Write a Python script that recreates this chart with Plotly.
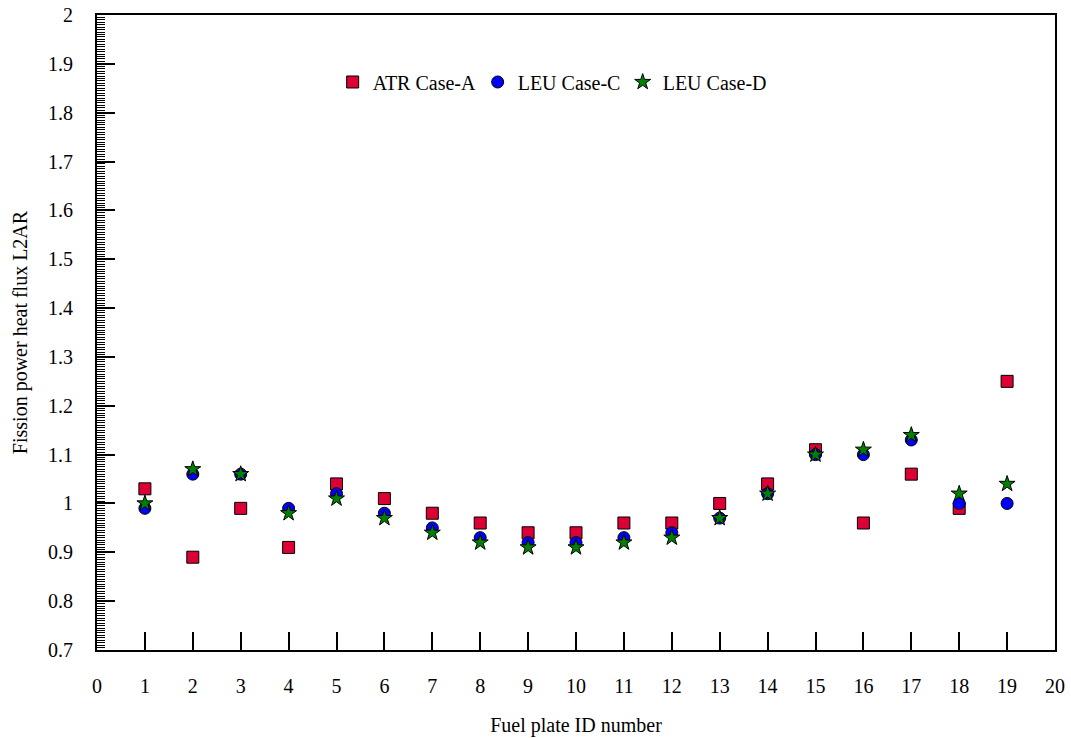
import plotly.graph_objects as go

plates = list(range(1, 20))
atr_case_a = [1.03, 0.89, 0.99, 0.91, 1.04, 1.01, 0.98, 0.96, 0.94, 0.94,
              0.96, 0.96, 1.00, 1.04, 1.11, 0.96, 1.06, 0.99, 1.25]
leu_case_c = [0.99, 1.06, 1.06, 0.99, 1.02, 0.98, 0.95, 0.93, 0.92, 0.92,
              0.93, 0.94, 0.97, 1.02, 1.10, 1.10, 1.13, 1.00, 1.00]
leu_case_d = [1.00, 1.07, 1.06, 0.98, 1.01, 0.97, 0.94, 0.92, 0.91, 0.91,
              0.92, 0.93, 0.97, 1.02, 1.10, 1.11, 1.14, 1.02, 1.04]

y_tickvals = [0.7, 0.8, 0.9, 1.0, 1.1, 1.2, 1.3, 1.4, 1.5, 1.6, 1.7, 1.8, 1.9, 2.0]
y_ticktext = ["0.7", "0.8", "0.9", "1", "1.1", "1.2", "1.3", "1.4", "1.5",
              "1.6", "1.7", "1.8", "1.9", "2"]
x_tickvals = list(range(0, 21))

font_family = "Liberation Serif, Times New Roman, serif"

fig = go.Figure()
fig.add_trace(go.Scatter(x=plates, y=atr_case_a, mode="markers", name="ATR Case-A",
                         marker=dict(symbol="square", size=12, color="#DC0034",
                                     line=dict(color="black", width=1))))
fig.add_trace(go.Scatter(x=plates, y=leu_case_c, mode="markers", name="LEU Case-C",
                         marker=dict(symbol="circle", size=12, color="#0000FF",
                                     line=dict(color="black", width=1))))
fig.add_trace(go.Scatter(x=plates, y=leu_case_d, mode="markers", name="LEU Case-D",
                         marker=dict(symbol="star", size=12, color="#008000",
                                     line=dict(color="black", width=1))))

fig.update_layout(
    width=1071, height=738,
    margin=dict(l=97, r=16, t=15, b=88),
    paper_bgcolor="white", plot_bgcolor="white",
    font=dict(family=font_family, size=20, color="black"),
    showlegend=True,
    legend=dict(orientation="h", x=0.246, y=0.8945, xanchor="left", yanchor="middle",
                bgcolor="rgba(0,0,0,0)", font=dict(size=20), itemwidth=30,
                entrywidth=100),
)
fig.update_xaxes(
    range=[0, 20], tickvals=x_tickvals, ticks="inside", ticklen=18, tickwidth=2,
    tickcolor="black", showline=True, linewidth=2, linecolor="black", mirror=True,
    showgrid=False, zeroline=False, ticklabelstandoff=17, automargin=False,
    title=dict(text="Fuel plate ID number", standoff=22, font=dict(size=20)),
)
fig.update_yaxes(
    range=[0.7, 2.0], tickvals=y_tickvals, ticktext=y_ticktext, ticks="inside",
    ticklen=18, tickwidth=1.5, tickcolor="black", showline=True, linewidth=2,
    linecolor="black", mirror=True, showgrid=False, zeroline=False,
    ticklabelstandoff=18, automargin=False,
    minor=dict(dtick=0.005, ticks="inside", ticklen=8, tickwidth=1.2, tickcolor="black",
               showgrid=False),
    title=dict(text="Fission power heat flux L2AR", standoff=15, font=dict(size=20)),
)

fig.write_html("out.html")
